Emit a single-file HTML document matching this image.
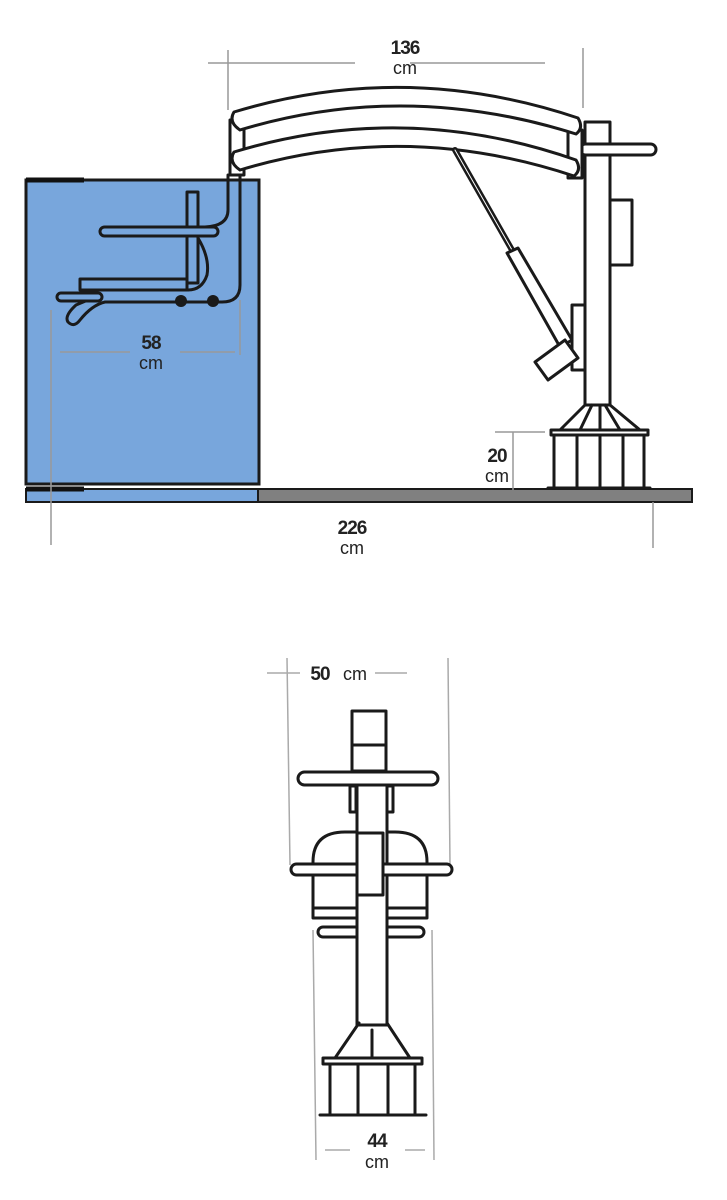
<!DOCTYPE html>
<html><head><meta charset="utf-8"><style>
html,body{margin:0;padding:0;background:#fff;}
svg{display:block}
text{font-family:"Liberation Sans",sans-serif;fill:#222;text-anchor:middle}
.b{font-weight:bold;font-size:19px;letter-spacing:-1px}
.c{font-size:18px}
</style></head><body>
<svg width="727" height="1200" viewBox="0 0 727 1200" xmlns="http://www.w3.org/2000/svg">
<!-- ===== top diagram ===== -->
<!-- blue box -->
<rect x="26" y="180" width="233" height="304" fill="#78a6dc" stroke="#1a1a1a" stroke-width="3"/>
<line x1="26" y1="180" x2="84" y2="180" stroke="#111" stroke-width="5"/>
<!-- floor -->
<rect x="26" y="489" width="232" height="13" fill="#78a6dc" stroke="#1a1a1a" stroke-width="2"/>
<rect x="258" y="489" width="434" height="13" fill="#808080" stroke="#1a1a1a" stroke-width="2"/>
<line x1="26" y1="489" x2="84" y2="489" stroke="#111" stroke-width="5"/>

<g fill="none" stroke="#999" stroke-width="1.5">
<!-- 136 -->
<line x1="208" y1="63" x2="355" y2="63"/><line x1="410" y1="63" x2="545" y2="63"/>
<line x1="228" y1="50" x2="228" y2="110"/><line x1="583" y1="48" x2="583" y2="108"/>
<!-- 58 -->
<line x1="51" y1="310" x2="51" y2="545"/><line x1="240" y1="300" x2="240" y2="355"/>
<line x1="60" y1="352" x2="130" y2="352"/><line x1="180" y1="352" x2="235" y2="352"/>
<!-- 226 -->
<line x1="653" y1="502" x2="653" y2="548"/>
<!-- 20 -->
<line x1="495" y1="432" x2="545" y2="432"/><line x1="513" y1="432" x2="513" y2="490"/>
</g>
<text class="b" x="405" y="54">136</text><text class="c" x="405" y="74">cm</text>
<text class="b" x="151" y="349">58</text><text class="c" x="151" y="369">cm</text>
<text class="b" x="352" y="534">226</text><text class="c" x="352" y="554">cm</text>
<text class="b" x="497" y="462">20</text><text class="c" x="497" y="482">cm</text>

<g fill="#fff" stroke="#1a1a1a" stroke-width="3" stroke-linejoin="round" stroke-linecap="round">
<!-- column -->
<rect x="585" y="122" width="25" height="283"/>
<rect x="610" y="200" width="22" height="65"/>
<rect x="572" y="305" width="13" height="65"/>
<rect x="580" y="144" width="76" height="11" rx="5.5"/>
<!-- base -->
<path d="M585 405 L560 430 M592 405 L580 430 M600 405 L600 430 M605 405 L620 430 M610 405 L640 430"/>
<rect x="551" y="430" width="97" height="5"/>
<path d="M554 435 V488 M577 435 V488 M600 435 V488 M623 435 V488 M644 435 V488 M548 488 H650"/>
<!-- arch posts -->
<rect x="230" y="120" width="14" height="55"/>
<rect x="568" y="130" width="14" height="48"/>
<!-- arch bars -->
<path d="M234 112 Q405 60 578 118 Q584 128 576 134 Q405 80 240 130 Q228 122 234 112 Z"/>
<path d="M234 152 Q405 100 576 160 Q582 170 574 176 Q405 120 240 170 Q228 162 234 152 Z"/>
<!-- actuator -->
<path d="M455 150 L512 250" stroke-width="6"/>
<path d="M455 150 L512 250" stroke="#fff" stroke-width="1"/>
<path d="M507 253 L518 248 L572 340 L560 347 Z"/>
<path d="M535 362 L565 340 L578 358 L548 380 Z"/>
</g>

<!-- seat in box -->
<g fill="none" stroke="#1a1a1a" stroke-width="3" stroke-linejoin="round" stroke-linecap="round">
<path d="M240 175 V285 Q240 302 222 302 H105 Q92 305 80 320 Q74 328 68 322 Q64 316 76 305 L88 300"/>
<path d="M228 175 V210 Q228 226 205 227"/>
<path d="M187 192 L198 192 L198 283 L187 283 Z" fill="#78a6dc"/>
<rect x="100" y="227" width="118" height="9" rx="4.5" fill="#78a6dc"/>
<path d="M80 279 H187 V290 H80 Z" fill="#78a6dc"/>
<path d="M198 238 Q210 258 207 275 Q202 290 188 290"/>
<rect x="57" y="293" width="45" height="8" rx="4" fill="#78a6dc"/>
</g>
<circle cx="181" cy="301" r="6" fill="#1a1a1a"/>
<circle cx="213" cy="301" r="6" fill="#1a1a1a"/>

<!-- ===== bottom diagram ===== -->
<g fill="none" stroke="#aaa" stroke-width="1.5">
<line x1="267" y1="673" x2="300" y2="673"/><line x1="375" y1="673" x2="407" y2="673"/>
<line x1="287" y1="658" x2="290" y2="865"/><line x1="448" y1="658" x2="450" y2="865"/>
<line x1="313" y1="930" x2="316" y2="1160"/><line x1="432" y1="930" x2="434" y2="1160"/>
<line x1="325" y1="1150" x2="350" y2="1150"/><line x1="405" y1="1150" x2="425" y2="1150"/>
</g>
<text class="b" x="320" y="680">50</text><text class="c" x="355" y="680">cm</text>
<text class="b" x="377" y="1147">44</text><text class="c" x="377" y="1168">cm</text>

<g fill="#fff" stroke="#1a1a1a" stroke-width="3" stroke-linejoin="round" stroke-linecap="round">
<rect x="352" y="711" width="34" height="60"/>
<line x1="352" y1="745" x2="386" y2="745"/>
<path d="M313 918 V862 Q313 832 345 832 H395 Q427 832 427 862 V918 Z"/>
<line x1="313" y1="908" x2="427" y2="908"/>
<rect x="318" y="927" width="106" height="10" rx="5"/>
<rect x="357" y="785" width="30" height="240"/>
<rect x="350" y="786" width="6" height="26"/><rect x="387" y="786" width="6" height="26"/>
<rect x="291" y="864" width="161" height="11" rx="5.5"/>
<rect x="357" y="833" width="26" height="62"/>
<rect x="298" y="772" width="140" height="13" rx="6.5"/>
<path d="M359 1023 L335 1058 M387 1023 L410 1058 M372 1030 V1058"/>
<rect x="323" y="1058" width="99" height="6"/>
<path d="M330 1064 V1115 M358 1064 V1115 M388 1064 V1115 M415 1064 V1115 M320 1115 H426"/>
</g>
</svg>
</body></html>
